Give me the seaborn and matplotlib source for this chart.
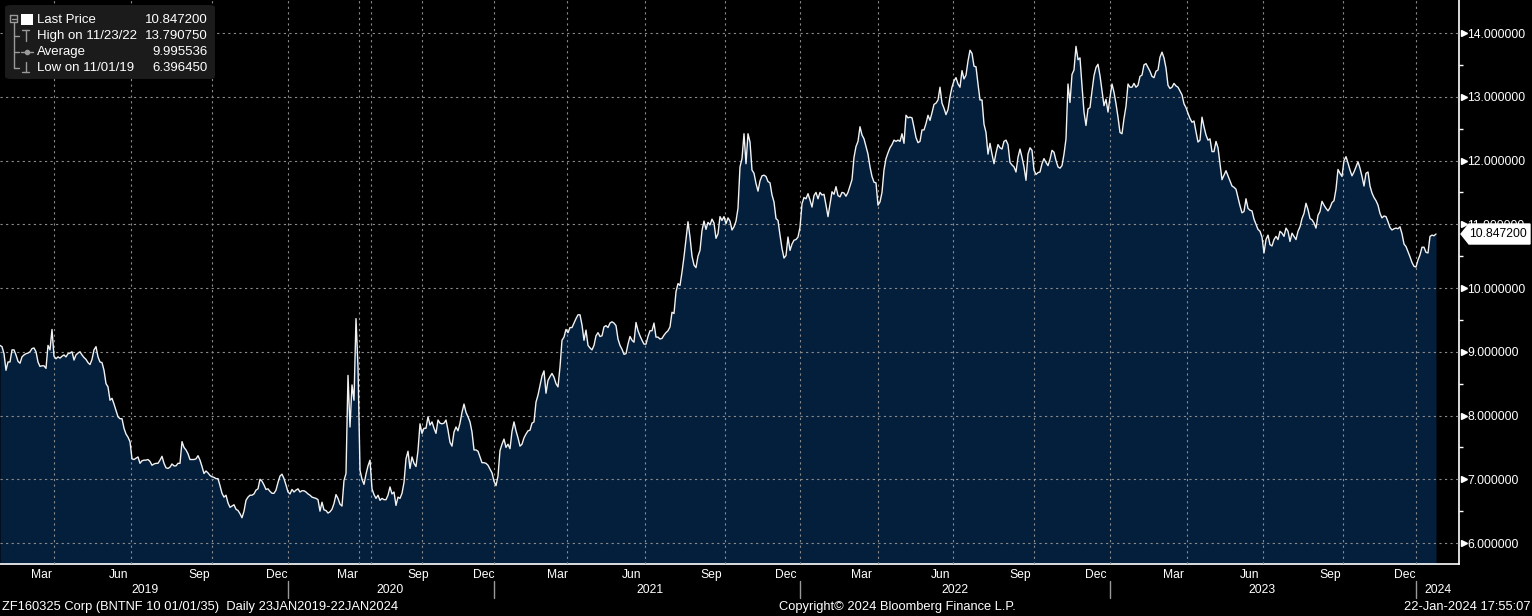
import numpy as np
import pandas as pd
import matplotlib
matplotlib.use("Agg")
import matplotlib.pyplot as plt
import seaborn as sns
from matplotlib.patches import Polygon, Rectangle, FancyBboxPatch
from matplotlib.lines import Line2D
from matplotlib.transforms import blended_transform_factory, IdentityTransform, ScaledTranslation

price_part1 = [9.10, 9.08, 8.97, 8.71, 8.84, 8.84, 9.03, 9.03, 8.95, 8.85,
               8.82, 8.92, 8.95, 8.97, 8.98, 9.00, 9.05, 9.06, 9.00, 8.84,
               8.77, 8.78, 8.78, 8.74, 9.10, 9.03, 9.35, 8.93, 8.89, 8.92,
               8.90, 8.93, 8.95, 8.92, 8.97, 8.98, 9.00, 8.87, 8.95, 8.98,
               9.00, 8.95, 8.91, 8.88, 8.83, 8.80, 8.88, 9.03, 9.08, 8.92,
               8.84, 8.83, 8.71, 8.50, 8.45, 8.24, 8.27, 8.18, 8.08, 7.98,
               7.95, 7.95, 7.80, 7.71, 7.66, 7.59, 7.32, 7.31, 7.33, 7.35,
               7.25, 7.29, 7.30, 7.30, 7.31, 7.28, 7.22, 7.24, 7.25, 7.25,
               7.30, 7.36, 7.25, 7.18, 7.17, 7.19, 7.24, 7.21, 7.21, 7.25,
               7.25, 7.59, 7.50, 7.46, 7.40, 7.31, 7.31, 7.31, 7.32, 7.37,
               7.30, 7.20, 7.09, 7.13, 7.10, 7.06, 7.04, 7.03, 7.01, 7.01,
               6.90, 6.78, 6.72, 6.75, 6.63, 6.56, 6.58, 6.60, 6.53, 6.51]
price_part2 = [6.46, 6.39645, 6.50, 6.67, 6.72, 6.75, 6.75, 6.77, 6.83, 6.85,
               7.00, 6.97, 6.91, 6.84, 6.85, 6.81, 6.78, 6.78, 6.83, 6.95,
               7.05, 7.08, 7.01, 6.91, 6.80, 6.77, 6.84, 6.80, 6.83, 6.85,
               6.80, 6.82, 6.82, 6.80, 6.77, 6.75, 6.72, 6.71, 6.70, 6.68,
               6.50, 6.64, 6.52, 6.51, 6.47, 6.49, 6.53, 6.62, 6.76, 6.70,
               6.61, 6.58, 6.98, 7.09, 8.63, 7.82, 8.48, 8.24, 9.52, 8.76,
               7.14, 7.00, 6.92, 7.08, 7.21, 7.30, 6.85, 6.76, 6.70, 6.75,
               6.67, 6.70, 6.68, 6.68, 6.75, 6.88, 6.77, 6.80, 6.59, 6.72,
               6.70, 6.78, 6.95, 7.32, 7.44, 7.17, 7.35, 7.25, 7.20, 7.45,
               7.87, 7.72, 7.80, 7.80, 7.98, 7.85, 7.90, 7.80, 7.72, 7.93,
               7.88, 7.87, 7.88, 7.93, 7.77, 7.58, 7.52, 7.74, 7.82, 7.76,
               7.88, 8.05, 8.18, 8.05, 7.98, 7.90, 7.74, 7.46, 7.46, 7.44]
price_part3 = [7.35, 7.26, 7.26, 7.25, 7.22, 7.16, 7.10, 6.97, 6.90, 7.05,
               7.45, 7.55, 7.63, 7.50, 7.55, 7.48, 7.75, 7.90, 7.76, 7.65,
               7.52, 7.55, 7.65, 7.71, 7.76, 7.77, 7.88, 7.90, 8.21, 8.32,
               8.47, 8.62, 8.70, 8.35, 8.55, 8.61, 8.66, 8.60, 8.50, 8.45,
               8.76, 9.18, 9.23, 9.35, 9.30, 9.38, 9.38, 9.45, 9.52, 9.58,
               9.58, 9.42, 9.18, 9.34, 9.10, 9.06, 9.03, 9.10, 9.25, 9.30,
               9.24, 9.25, 9.39, 9.41, 9.38, 9.45, 9.47, 9.45, 9.41, 9.20,
               9.10, 9.04, 8.96, 8.97, 9.12, 9.24, 9.18, 9.15, 9.46, 9.33,
               9.25, 9.18, 9.12, 9.12, 9.24, 9.33, 9.33, 9.45, 9.23, 9.23,
               9.20, 9.21, 9.26, 9.30, 9.33, 9.39, 9.62, 9.60, 9.94, 10.07,
               10.04, 10.25, 10.49, 10.77, 11.04, 10.80, 10.50, 10.36, 10.32, 10.50,
               10.59, 10.90, 11.05, 10.92, 11.03, 10.99, 11.08, 11.02, 10.78, 10.85]
price_part4 = [11.12, 11.06, 11.12, 11.01, 11.10, 11.05, 10.91, 10.96, 11.05, 11.25,
               11.90, 12.03, 12.42, 11.95, 12.42, 12.29, 11.85, 11.80, 11.64, 11.52,
               11.68, 11.76, 11.77, 11.75, 11.67, 11.65, 11.46, 11.35, 11.09, 11.06,
               10.83, 10.62, 10.47, 10.51, 10.80, 10.59, 10.69, 10.75, 10.76, 10.80,
               10.95, 11.32, 11.42, 11.40, 11.48, 11.38, 11.27, 11.45, 11.50, 11.40,
               11.50, 11.46, 11.47, 11.30, 11.12, 11.32, 11.51, 11.47, 11.59, 11.45,
               11.43, 11.50, 11.49, 11.44, 11.50, 11.60, 11.70, 12.05, 12.22, 12.30,
               12.53, 12.40, 12.34, 12.22, 12.10, 11.90, 11.75, 11.66, 11.65, 11.30,
               11.35, 11.50, 11.85, 12.03, 12.12, 12.20, 12.25, 12.32, 12.30, 12.32,
               12.30, 12.42, 12.27, 12.71, 12.67, 12.68, 12.67, 12.52, 12.36, 12.28,
               12.30, 12.48, 12.48, 12.58, 12.71, 12.63, 12.75, 12.88, 12.90, 12.95,
               13.15, 12.90, 12.82, 12.72, 12.80, 13.00, 13.15, 13.25, 13.30, 13.20]
price_part5 = [13.15, 13.41, 13.28, 13.34, 13.56, 13.73, 13.68, 13.48, 13.47, 13.20,
               12.95, 12.95, 12.57, 12.44, 12.10, 12.27, 12.10, 11.95, 12.12, 12.25,
               12.20, 12.18, 12.30, 12.32, 12.25, 11.97, 11.93, 11.90, 11.82, 12.05,
               12.18, 12.05, 11.90, 11.69, 12.10, 12.20, 12.16, 11.85, 11.78, 11.81,
               11.82, 11.95, 12.03, 11.97, 11.92, 12.02, 12.16, 12.13, 12.00, 11.90,
               11.88, 11.92, 12.10, 12.34, 13.20, 12.91, 13.35, 13.42, 13.79075, 13.58,
               13.61, 13.17, 12.76, 12.55, 12.81, 12.83, 13.09, 13.33, 13.46, 13.51,
               13.33, 13.09, 12.86, 12.96, 12.76, 12.99, 13.20, 13.07, 12.89, 12.68,
               12.44, 12.42, 12.66, 12.85, 13.20, 13.15, 13.15, 13.21, 13.15, 13.18,
               13.32, 13.34, 13.50, 13.52, 13.46, 13.40, 13.32, 13.30, 13.40, 13.42,
               13.62, 13.70, 13.61, 13.45, 13.18, 13.13, 13.15, 13.21, 13.17, 13.15,
               13.09, 13.03, 12.89, 12.83, 12.74, 12.66, 12.60, 12.62, 12.45, 12.29]
price_part6 = [12.32, 12.68, 12.53, 12.40, 12.32, 12.34, 12.14, 12.14, 12.30, 12.20,
               11.95, 11.70, 11.77, 11.84, 11.76, 11.68, 11.60, 11.58, 11.55, 11.42,
               11.29, 11.18, 11.20, 11.40, 11.25, 11.22, 11.21, 11.08, 11.00, 10.92,
               10.89, 10.80, 10.55, 10.76, 10.83, 10.68, 10.66, 10.76, 10.81, 10.76,
               10.89, 10.86, 10.81, 10.94, 10.89, 10.73, 10.86, 10.81, 10.76, 10.89,
               10.96, 11.09, 11.17, 11.33, 11.23, 11.09, 11.07, 11.02, 10.94, 11.14,
               11.20, 11.36, 11.30, 11.25, 11.21, 11.26, 11.34, 11.37, 11.55, 11.86,
               11.80, 11.75, 12.00, 12.06, 11.96, 11.85, 11.76, 11.82, 11.90, 11.98,
               11.88, 11.75, 11.60, 11.80, 11.82, 11.60, 11.49, 11.42, 11.37, 11.30,
               11.17, 11.10, 11.13, 11.12, 11.04, 10.95, 10.91, 10.93, 10.94, 10.93,
               10.96, 10.85, 10.69, 10.65, 10.57, 10.49, 10.40, 10.34, 10.33, 10.44,
               10.52, 10.64, 10.64, 10.56, 10.55, 10.81, 10.83, 10.82, 10.8472]

# legend statistics as printed on the chart
legend_names = ["Last Price", "High on 11/23/22", "Average", "Low on 11/01/19"]
legend_values = [10.847200, 13.790750, 9.995536, 6.396450]

# x axis (observation-number axis, as Bloomberg draws it)
quarter_obs = [27, 65.5, 106, 144, 179.5, 185.5, 211, 247, 283.5, 322.5, 362.5, 400,
               439, 476.5, 517, 555, 593.5, 631.5, 671.5, 708]
year_obs = [144, 247, 400, 555, 708]
month_labels = ["Mar", "Jun", "Sep", "Dec", "Mar", "Sep", "Dec", "Mar", "Jun", "Sep",
                "Dec", "Mar", "Jun", "Sep", "Dec", "Mar", "Jun", "Sep", "Dec"]
month_label_obs = [21, 59.5, 99.5, 138.5, 174, 209, 242, 278.5, 316, 355.5,
                   393, 431, 470.5, 510, 548, 586.5, 625, 665, 702.5]
year_labels = ["2019", "2020", "2021", "2022", "2023", "2024"]
year_label_obs = [72.5, 195, 325, 477.5, 631, 719]
y_ticks = [6, 7, 8, 9, 10, 11, 12, 13, 14]

price = price_part1 + price_part2 + price_part3 + price_part4 + price_part5 + price_part6
df = pd.DataFrame({"obs": np.arange(len(price)), "price": price})

# ---------------- style ----------------
W, H = 1532, 616
sns.set_style("dark")
plt.rcParams["font.family"] = ["Liberation Sans", "DejaVu Sans"]
plt.rcParams["axes.unicode_minus"] = False

BG = "black"
FILL = "#041f3c"
GRID = "#8a8a8a"
FS = 8.7

fig = plt.figure(figsize=(W / 100, H / 100), dpi=100, facecolor=BG)
ax = fig.add_axes([0, 52 / H, 1459 / W, 564 / H])
ax.set_facecolor(BG)

ymin, ymax = 5.671, 14.518
ax.fill_between(df["obs"], df["price"], ymin, color=FILL, lw=0, zorder=1)
sns.lineplot(data=df, x="obs", y="price", color="#f2f2f2", lw=1.0, ax=ax, zorder=3)

ax.set_xlim(0, 729.5)
ax.set_ylim(ymin, ymax)
ax.set_xlabel("")
ax.set_ylabel("")

# grid
ax.set_axisbelow(False)
ax.set_xticks(quarter_obs)
ax.set_xticklabels([])
months = [3.5, 15]
for a, b in zip(quarter_obs[:-1], quarter_obs[1:]):
    months += [a + (b - a) / 3, a + 2 * (b - a) / 3]
months += [721.5]
ax.set_xticks(months, minor=True)
ax.set_yticks(y_ticks)
ax.set_yticklabels([f"{v:.6f}" for v in y_ticks])
ax.set_yticks(np.arange(6.5, 14.5, 1.0), minor=True)
ax.grid(True, which="major", color=GRID, lw=0.8, ls=(0, (2, 3)), zorder=2)
ax.grid(False, which="minor")

ax.yaxis.tick_right()
ax.tick_params(axis="y", which="major", length=0, pad=6, labelcolor="white", labelsize=FS)
ax.tick_params(axis="y", which="minor", length=3, width=1, color="white", direction="out")
ax.tick_params(axis="x", which="both", length=3.5, width=1, color="white", direction="out")

for s in ["left", "top"]:
    ax.spines[s].set_visible(False)
for s in ["right", "bottom"]:
    ax.spines[s].set_visible(True)
    ax.spines[s].set_color("white")
    ax.spines[s].set_linewidth(1.2)

# small triangles on the value axis
tri_tr = blended_transform_factory(ax.transAxes, ax.transData) + ScaledTranslation(5 / 100, 0, fig.dpi_scale_trans)
ax.plot([1.0] * len(y_ticks), y_ticks, ls="none", marker=">", ms=4, color="white",
        transform=tri_tr, clip_on=False, zorder=5)

# month / year labels
lab_tr = blended_transform_factory(ax.transData, fig.transFigure)
for lab, x in zip(month_labels, month_label_obs):
    ax.text(x, 1 - 575 / H, lab, transform=lab_tr, ha="center", va="center", color="white", fontsize=FS)
for lab, x in zip(year_labels, year_label_obs):
    ax.text(x, 1 - 590 / H, lab, transform=lab_tr, ha="center", va="center", color="white", fontsize=FS)
for x in year_obs:
    ax.add_line(Line2D([x, x], [1 - 581 / H, 1 - 598 / H], transform=lab_tr, color="#9a9a9a",
                       lw=1, clip_on=False))

# last-price tag
fig.canvas.draw()
yc = ax.transData.transform((0, price[-1]))[1]
tag = Polygon([(1461, yc), (1469, yc + 10), (1530, yc + 10), (1530, yc - 10), (1469, yc - 10)],
              closed=True, facecolor="white", edgecolor="white", transform=IdentityTransform())
fig.add_artist(tag)
fig.text(1469 / W, yc / H, f"{price[-1]:.6f}", color="black", fontsize=FS, ha="left", va="center")

# legend panel
def P(x, y):
    return x / W, 1 - y / H

box = FancyBboxPatch(P(5, 79), 210 / W, 74 / H, boxstyle="round,pad=0,rounding_size=0.004",
                     transform=fig.transFigure, facecolor="#1b1b1b", edgecolor="none")
fig.add_artist(box)
gc = "#9a9a9a"
def L(xs, ys, lw=1.0):
    fig.add_artist(Line2D([x / W for x in xs], [1 - y / H for y in ys], transform=fig.transFigure,
                          color=gc, lw=lw))
L([10, 17, 17, 10, 10], [15, 15, 22, 22, 15])
L([11.5, 15.5], [18.5, 18.5])
L([13.5, 13.5], [22, 68])
for yy in (36, 52, 68):
    L([13.5, 19], [yy, yy])
L([22, 29], [30, 30]); L([25.5, 25.5], [30, 41])
L([21, 33], [52, 52])
fig.add_artist(Line2D([27 / W], [1 - 52 / H], transform=fig.transFigure, marker="o", ms=3, color=gc))
L([25.5, 25.5], [62, 72]); L([22, 29], [72, 72])
fig.add_artist(Rectangle(P(21, 25), 12 / W, 11 / H, transform=fig.transFigure, facecolor="white",
                         edgecolor="none"))
for i, (nm, val) in enumerate(zip(legend_names, legend_values)):
    yy = 20 + 16 * i
    fig.text(37 / W, 1 - yy / H, nm, color="white", fontsize=9.5, ha="left", va="center")
    fig.text(208 / W, 1 - yy / H, f"{val:.6f}", color="white", fontsize=9.5, ha="right", va="center")

# footer
FF = 9.3
fig.text(2 / W, 1 - 607 / H, "ZF160325 Corp (BNTNF 10 01/01/35)  Daily 23JAN2019-22JAN2024",
         color="white", fontsize=FF, ha="left", va="center")
fig.text(779 / W, 1 - 607 / H, "Copyright\u00a9 2024 Bloomberg Finance L.P.",
         color="white", fontsize=FF, ha="left", va="center")
fig.text(1530 / W, 1 - 607 / H, "22-Jan-2024 17:55:07",
         color="white", fontsize=FF, ha="right", va="center")

fig.savefig("out.png", dpi=100, facecolor=BG)
